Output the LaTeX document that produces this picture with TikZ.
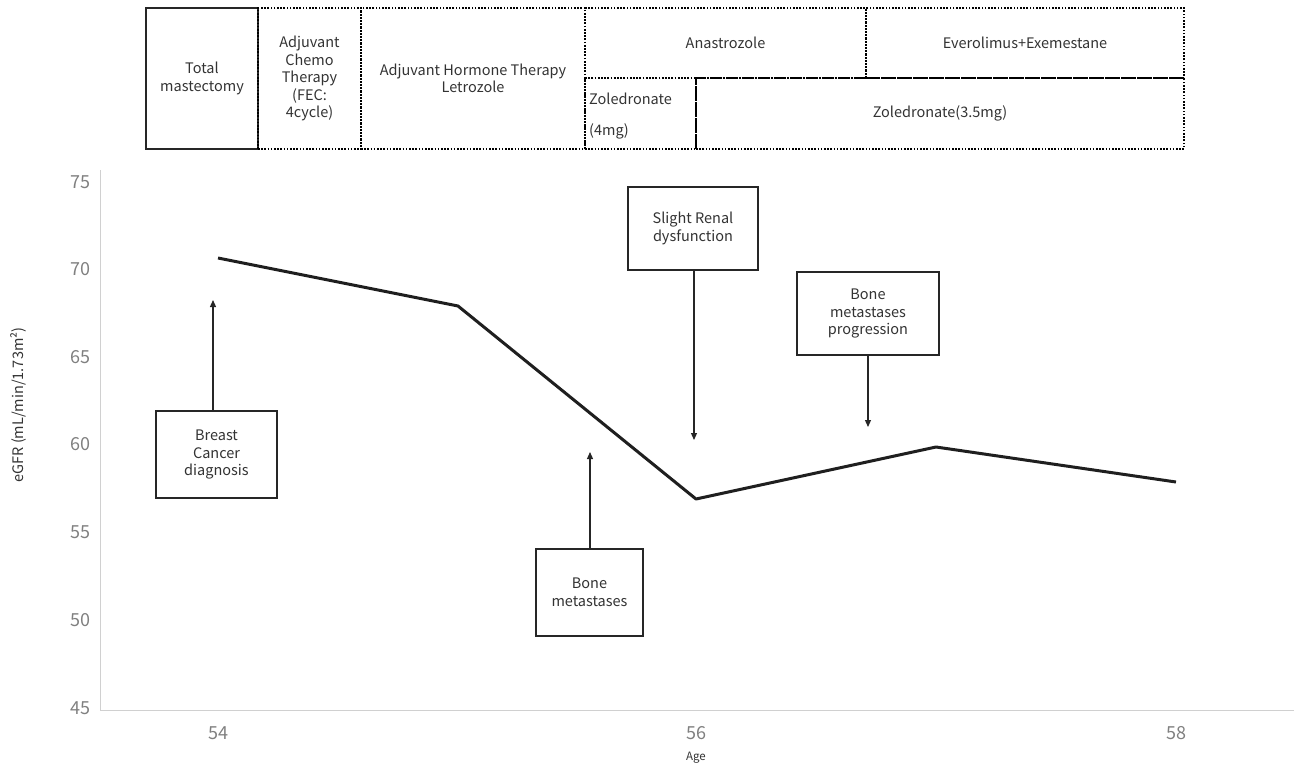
\documentclass[tikz,border=0pt]{standalone}
\usepackage{fontspec}
\setmainfont{Noto Sans CJK JP}
\usetikzlibrary{arrows.meta}
\definecolor{txt}{HTML}{333333}
\definecolor{tick}{HTML}{808080}
\definecolor{axis}{HTML}{D0D0D0}
\tikzset{
  topbox/.style={draw=black, line width=2.2pt, dash pattern=on 1.6pt off 1.6pt, inner sep=0pt, align=center, text=txt, font=\fontsize{14.5}{17.5}\selectfont},
  solidbox/.style={draw=black!85, line width=2pt, inner sep=0pt, align=center, text=txt, font=\fontsize{14.5}{17.5}\selectfont},
  evbox/.style={draw=black!85, line width=2pt, fill=white, inner sep=0pt, align=center, text=txt, font=\fontsize{14.5}{17.5}\selectfont},
  arr/.style={-{Triangle[length=7pt,width=6pt]}, line width=1.2pt, draw=black!85},
  ticklab/.style={text=tick, font=\fontsize{18}{18}\selectfont},
  axisline/.style={draw=axis, line width=1pt},
  dataline/.style={draw=black!88, line width=3pt, line join=round}
}
\begin{document}
\begin{tikzpicture}[x=1pt,y=-1pt]
\useasboundingbox (0,0) rectangle (1294,769);
% axes
\draw[axisline] (100,170) -- (100,710) -- (1294,710);
% y ticks
\foreach \v/\yy in {75/182,70/269,65/357,60/444,55/532,50/620,45/708}
  \node[ticklab] at (80,\yy) {\v};
\foreach \v/\xx in {54/218,56/696,58/1176}
  \node[ticklab] at (\xx,733) {\v};
\node[text=txt, font=\fontsize{11.5}{11.5}\selectfont] (xt) at (696,758) {Age};
\node[text=txt, font=\fontsize{14.5}{14.5}\selectfont, rotate=90] (yt) at (18,405) {eGFR (mL/min/1.73m²)};
% data
\coordinate (p1) at (218,258);
\coordinate (p2) at (458,306);
\coordinate (p3) at (696,499);
\coordinate (p4) at (936,447);
\coordinate (p5) at (1176,482);
\draw[dataline] (p1) -- (p2) -- (p3) -- (p4) -- (p5);
% top treatment boxes
\node[solidbox, minimum width=112, minimum height=141] (tm) at (202,78.5) {Total\\mastectomy};
\node[topbox, minimum width=103, minimum height=141] (chemo) at (309.5,78.5) {Adjuvant\\Chemo\\Therapy\\(FEC:\\4cycle)};
\node[topbox, minimum width=224, minimum height=141] (horm) at (473,78.5) {Adjuvant Hormone Therapy\\Letrozole};
\node[topbox, minimum width=281, minimum height=70] (ana) at (725.5,43) {Anastrozole};
\node[topbox, minimum width=318, minimum height=70] (evo) at (1025,43) {Everolimus+Exemestane};
\node[topbox, minimum width=111, minimum height=71] (zol4) at (640.5,113.5) {};
\node[text=txt, font=\fontsize{14.5}{31}\selectfont, align=left, anchor=west, inner sep=0pt] (zol4t) at (589,116.5) {Zoledronate\\(4mg)};
\node[topbox, minimum width=488, minimum height=71] (zol35) at (940,113.5) {Zoledronate(3.5mg)};
% event boxes
\node[evbox, minimum width=121, minimum height=87] (bcd) at (216.5,454.5) {Breast\\Cancer\\diagnosis};
\node[evbox, minimum width=107, minimum height=87] (bm) at (589.5,592.5) {Bone\\metastases};
\node[evbox, minimum width=130, minimum height=83] (srd) at (693,228.5) {Slight Renal\\dysfunction};
\node[evbox, minimum width=142, minimum height=83] (bmp) at (868,313.5) {Bone\\metastases\\progression};
% arrows
\coordinate (a1) at (213,300);
\coordinate (a2) at (590,452);
\coordinate (a3) at (694,440);
\coordinate (a4) at (868,427);
\draw[arr] (bcd.north -| a1) -- (a1);
\draw[arr] (bm.north -| a2) -- (a2);
\draw[arr] (srd.south -| a3) -- (a3);
\draw[arr] (bmp.south) -- (a4);
\end{tikzpicture}
\end{document}
